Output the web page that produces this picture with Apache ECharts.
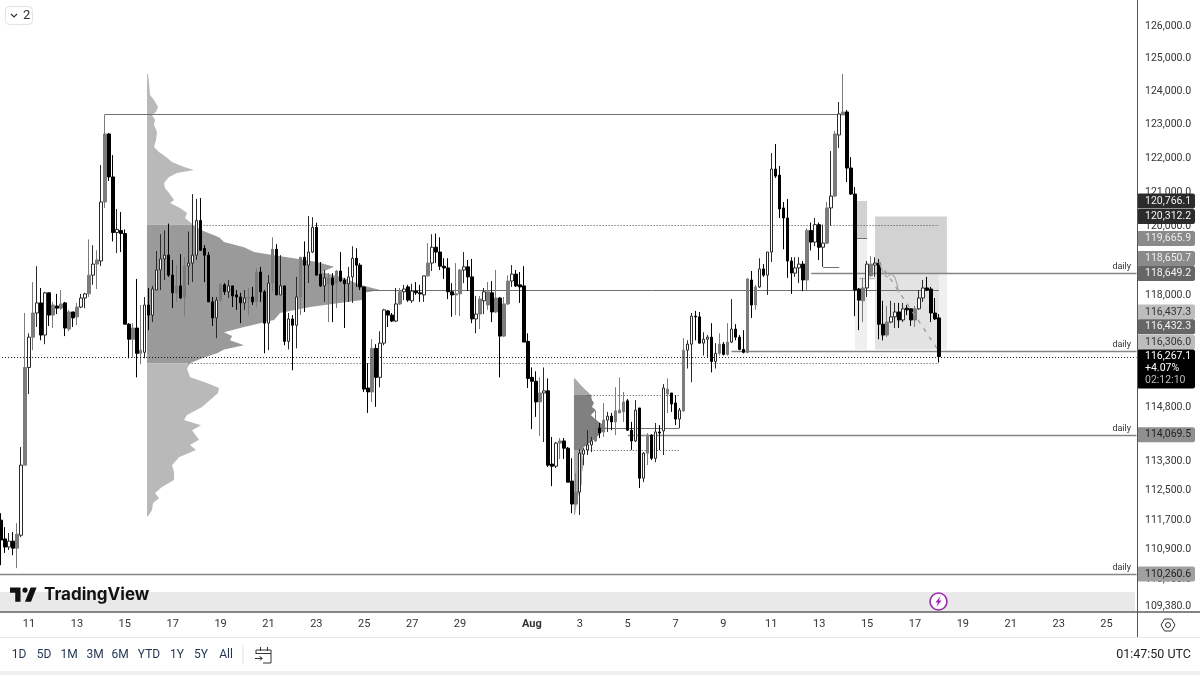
<!DOCTYPE html>
<html>
<head>
<meta charset="utf-8">
<title>BTCUSD 4h</title>
<style>
html, body { margin: 0; padding: 0; background: #fff; }
#chart { width: 1200px; height: 675px; }
</style>
<script src="https://cdn.jsdelivr.net/npm/echarts@6/dist/echarts.min.js"></script>
</head>
<body>
<div id="chart"></div>
<script>
// 4h candles: open, close, low, high
var candles = [
[111720,111180,110500,111910],[111210,110990,110830,111530],[110990,111150,110910,111370],[111150,110960,110770,111400],[110960,111340,110420,111640],
[111310,113230,111260,113730],[113230,115960,113230,117510],[115960,116820,115210,116930],[116820,117510,116450,118400],[117510,117800,117110,118860],
[117800,116880,116730,118230],[116880,118090,116620,118120],[118090,117450,117140,118090],[117450,117740,117080,117830],[117710,117650,117480,118060],
[117650,117770,117600,118170],[117800,117080,116850,117830],[117050,117540,116990,117600],[117540,117370,117110,117540],[117400,117680,117160,117800],
[117680,117940,117650,118060],[117940,118060,117650,118090],[118060,118600,117970,119640],[118600,118920,118320,119470],[118920,119040,118200,119320],
[119010,120735,118860,121830],[120735,122755,120560,123340],[122755,121475,121355,122785],[121475,119840,119580,122125],[119840,119930,119240,120530],
[119900,119810,119270,120440],[119810,117190,117190,119930],[117190,116760,116220,117220],[116760,117080,116240,117220],[117080,116360,115680,118490],
[116360,116450,116050,117740],[116390,117740,116220,117970],[117740,117450,117020,118230],[117450,118200,117250,118290],[118170,118750,118170,119300],
[118750,119070,118170,119790],[119070,119180,118460,119900],[119180,118600,118550,120100],[118600,118090,117650,119040],[118090,118290,117830,118890],
[118290,117940,117910,119210],[117970,118860,117420,119120],[118860,118950,118320,119870],[118950,119180,118400,120970],[119180,120190,119040,120825],
[120190,119320,119300,120850],[119380,119180,118400,119470],[119180,117830,117830,119270],[117830,117370,117140,117970],[117370,117880,116790,117970],
[117880,118320,117830,118370],[118320,118120,118030,118370],[118120,118290,117940,118460],[118290,118000,117680,118290],[118030,117970,117600,118170],
[117970,117800,117220,118090],[117800,117940,117600,118170],[117940,117970,117450,118230],[117970,117830,117740,118260],[117830,118690,117680,118810],
[118690,118120,117830,118840],[118120,117220,116360,118170],[117220,118370,116450,118600],[118370,119350,118120,119700],[119350,118030,118030,119500],
[118030,118290,118030,119180],[118290,116700,116590,118290],[116700,117340,116470,117510],[117340,117160,115880,117450],[117160,117970,116500,118550],
[117970,119120,117450,119120],[119120,118890,117540,119580],[118890,119270,118370,120320],[119270,119990,119240,120290],[119990,118600,118600,120130],
[118630,118290,118260,118980],[118290,118520,117830,118750],[118350,118520,117250,118660],[118520,118320,117250,118660],[118350,118720,117650,118750],
[118720,118430,118400,119270],[118460,118350,117080,118520],[118350,118550,117830,118840],[118550,119090,117800,119440],[119090,118890,118260,119380],
[118890,118260,118170,118950],[118260,115350,115270,118260],[115380,115270,114680,116080],[115270,116500,114990,116760],[116500,115680,114850,116620],
[115680,116650,115400,116990],[116650,117600,116590,117630],[117570,117450,117110,117600],[117450,117280,117250,117510],[117280,117770,117250,118230],
[117770,118120,117740,118230],[118120,118200,117880,118320],[118260,117880,117830,118320],[117860,118140,117800,118350],[118140,118090,118030,118400],
[118090,118060,117830,118320],[118030,118580,117830,118580],[118580,118950,118550,119530],[118950,119410,118720,119790],[119410,119270,118950,119810],
[119270,118860,118750,119700],[118860,118810,118490,119090],[118810,118120,117910,119090],[118120,118030,117400,118370],[118030,118060,117450,118950],
[118060,118750,117420,118780],[118750,118840,118370,119270],[118840,118550,118140,119040],[118550,117340,117220,119070],[117340,117480,116930,118000],
[117480,117910,117050,118000],[117860,118120,117480,118230],[117740,118120,117600,118400],[118090,117540,117250,118430],[117540,117940,117510,118750],
[117940,116850,115680,117970],[116850,117770,116820,117970],[117770,118430,117740,118600],[118430,118630,118260,118890],[118630,118290,118260,118750],
[118320,118260,117800,118690],[118290,116680,116680,118860],[116700,115650,115380,116930],[115680,115570,114230,115960],[115570,114990,114570,115850],
[114990,115240,114040,115680],[115240,115300,113870,115960],[115300,113230,113180,115650],[113260,113200,112650,114010],[113200,113840,113150,113870],
[113840,113900,113400,113980],[113900,113700,113400,113980],[113700,112760,112760,113730],[112790,112160,111910,113420],[112160,112490,112130,113010],
[112490,113560,111860,113670],[113530,113650,113230,113700],[113650,113790,113510,114200],[113790,113900,113590,114010],[113900,114260,113870,114740],
[114260,114120,113980,114400],[114150,114480,114010,114960],[114480,114590,114150,114710],[114590,114430,114200,114680],[114430,114740,114060,115400],
[114680,114760,114680,115680],[114710,114990,114430,115270],[115020,114200,114180,115070],[114200,113900,113650,114430],[113900,114760,113870,115040],
[114820,112870,112600,114820],[112870,113560,112760,113590],[113560,114060,113230,114120],[114060,113420,113370,114090],[113420,114150,113310,114400],
[114150,114120,113650,114340],[114180,115380,113510,115490],[115210,115350,114680,115650],[115240,114930,114710,115240],[114960,114510,114340,115180],
[114510,114760,114260,114820],[114740,116450,114710,116790],[116450,116620,115930,116730],[116620,117420,115540,117510],[117420,117400,116730,117570],
[117400,116650,116650,117540],[116650,116760,116300,116960],[116760,116820,116240,116880],[116820,116130,115820,117220],[116130,116360,115930,116650],
[116360,116620,116300,116930],[116620,116330,116300,116680],[116330,116680,116300,117220],[116680,117050,116650,117910],[117050,116820,116730,117190],
[116820,116470,116450,116880],[116470,116390,116360,117020],[116390,118490,116360,118520],[118460,117740,117370,118720],[117740,118260,117600,118320],
[118260,118780,118230,119090],[118780,118600,118550,118920],[118600,119270,118030,119270],[119270,121710,118980,122185],[121710,121500,121445,122455],
[121530,120530,120265,121800],[120560,120265,119350,120735],[120265,119010,118520,120825],[119010,118660,118060,119120],[118660,118810,118550,119120],
[118810,118920,118370,119120],[118920,118460,118140,119010],[118460,119900,118170,119960],[119900,119560,119320,120130],[119560,120070,119440,120265],
[120070,119410,119040,120130],[119410,119530,118840,120070],[119530,120560,119500,120735],[120560,120910,120040,122245],[120910,122755,120880,122845],
[122725,123355,122335,123715],[123325,123415,123325,124565],[123415,121740,121325,123475],[121740,120970,120940,122065],[120970,118170,117420,121175],
[118200,117880,117020,118230],[117860,118230,117250,118520],[118230,118920,117970,119010],[118580,118920,118550,119150],[118890,118950,118550,119120],
[118950,117190,116760,119070],[117190,116880,116730,117860],[116880,117250,116820,117710],[117250,117400,117220,117860],[117400,117540,117080,117800],
[117540,117310,117080,117800],[117310,117630,117250,117800],[117650,117600,117450,117740],[117630,117310,117140,117650],[117310,117630,117110,117710],
[117630,117940,117600,118170],[117940,118230,117830,118460],[118230,118170,118140,118550],[118200,117510,117250,118260],[117510,117340,117310,117940],
[117370,116267.1,116100,117480]
];
// candles that TradingView shows filled grey
var greyCandles = [4,6,8,13,15,17,19,22,24,26,33,35,44,46,55,62,64,68,75,82,84,93,100,107,114,115,120,122,124,126,127,135,140,144,149,151,154,155,156,162,167,171,180,182,187,189,202,207,209,211,216,218,222,229];

var tickDays = ['07-11','07-13','07-15','07-17','07-19','07-21','07-23','07-25','07-27','07-29','08-01','08-03','08-05','08-07','08-09','08-11','08-13','08-15','08-17','08-19','08-21','08-23','08-25'];
var tickNames = ['11','13','15','17','19','21','23','25','27','29','Aug','3','5','7','9','11','13','15','17','19','21','23','25'];
var priceTicks = [126000,125000,124000,123000,122000,121000,120000,118000,114800,113300,112500,111700,110900,110100,109380];

// volume profile rows: price, volume
var profilePrices = [124565,124290,123930,123775,123565,123415,123325,123175,123025,122815,122575,122365,122215,122065,121920,121770,121680,121590,121475,121295,121145,121000,120795,120705,120560,120410,120265,120100,120070,119900,119700,119560,119410,119270,119180,119090,118980,118840,118690,118520,118320,118170,118090,117880,117680,117510,117310,117110,116960,116850,116730,116590,116470,116360,116220,116080,115930,115680,115540,115380,115240,115040,114850,114620,114480,114340,114200,113930,113790,113650,113450,113230,113040,112820,112630,112460,112320,112190,112000,111830];
var profileVolumes = [1,2,3,7,11,9,5,8,7,10,9,7,12,19,25,37,47,30,22,17,18,22,27,23,33,40,38,45,46,55,72,77,97,107,127,147,170,187,175,197,213,233,217,215,163,133,127,97,77,85,83,97,77,70,55,43,40,43,58,72,71,63,55,40,37,54,45,52,43,49,32,25,27,27,15,8,12,6,5,1];
var profile2Prices = [115650,115460,115320,115240,115180,115040,114960,114850,114760,114620,114540,114430,114340,114260,114150,114010,113870,113730,113650,113510,113290,113010,112740,112350,111860];
var profile2Volumes = [1,7,12,15,17,18,20,18,22,17,20,25,30,32,28,23,17,10,8,8,10,8,8,4,1];

// levels: from candle, to candle, price
var dailyLines = [[0,284,110260.6],[157,284,114069.5],[183,284,116432.3],[203,284,118649.2]];
var solidLevels = [[91,235,118170],[26,210,123340],[150,170,114260],[206,210,118840],[214,217,119665.9]];
var paleLevels = [[215,219,118520]];
var dottedLevels = [[50,235,120070],[47,235,116100],[147,170,115180],[147,170,113650]];
var lastPriceLevel = [[0,284,116267.1]];
var dailyLevels = [118649.2,116432.3,114069.5,110260.6];

// position boxes: from candle, to candle, top price, bottom price
var darkBoxes = [[214,217,120766.1,119665.9],[219,237,120312.2,118650.7]];
var midBoxes = [[219,235,118650.7,116470]];
var lightBoxes = [[214,217,119665.9,116470],[235,237,118650.7,116470]];

var forecastCurve = [[220,118980],[222,118550],[223,118630],[224,118520],[225,118090]];
var forecastDash = [[220,118980],[235,116420]];

// price tags on the axis: text, price
var tagTexts = ['120,766.1','120,312.2','119,665.9','118,650.7','118,649.2','116,437.3','116,432.3','116,306.0','114,069.5','110,260.6'];
var tagPrices = [120766.1,120312.2,119665.9,118650.7,118649.2,116437.3,116432.3,116306,114069.5,110260.6];
var tagLift = [0,0,0,15,0,38.6,24,13,0,0];
var tagBg = ['#2b2b2b','#2b2b2b','#8a8a8a','#8a8a8a','#666666','#bdbdbd','#666666','#bdbdbd','#8f8f8f','#a0a0a0'];
var tagFg = ['#f4f4f4','#f4f4f4','#eeeeee','#eeeeee','#f4f4f4','#333333','#f4f4f4','#333333','#222222','#222222'];

var rangeButtons = ['1D','5D','1M','3M','6M','YTD','1Y','5Y','All'];
var rangeButtonX = [19,44,69,95,120,149,177,201,226];

var FONT = 'Roboto, "Liberation Sans", sans-serif';
var LAST = 284;

// 4h category axis, from 9 Jul 20:00 until past the right edge of the plot
var categories = [];
(function() {
    var t = Date.UTC(2025, 6, 9, 20);
    for (var i = 0; i <= LAST; i++) {
        var d = new Date(t + i * 4 * 3600000);
        var mm = ('0' + (d.getUTCMonth() + 1)).slice(-2);
        var dd = ('0' + d.getUTCDate()).slice(-2);
        var hh = ('0' + d.getUTCHours()).slice(-2);
        categories.push(mm + '-' + dd + ' ' + hh);
    }
})();

var candleData = candles.map(function(c, i) {
    if (greyCandles.indexOf(i) >= 0) {
        return { value: c, itemStyle: { color: '#7c7c7c', color0: '#7c7c7c', borderColor: '#7c7c7c', borderColor0: '#7c7c7c' } };
    }
    return c;
});

function silentCustom(data, z, renderItem) {
    return {
        type: 'custom',
        silent: true,
        z: z,
        data: data,
        renderItem: renderItem,
        animation: false
    };
}

function levelRows(rows) {
    return rows.map(function(r) { return [r[0], r[2]]; });
}

function levelSeries(rows, color, width, dash, z) {
    return silentCustom(levelRows(rows), z, function(params, api) {
        var r = rows[params.dataIndex];
        var cs = params.coordSys;
        var a = api.coord([r[0], r[2]]);
        var b = api.coord([r[1], r[2]]);
        var y = Math.round(a[1]) + 0.5;
        return {
            type: 'line',
            shape: { x1: r[0] === 0 ? cs.x : a[0], y1: y, x2: r[1] === LAST ? cs.x + cs.width : b[0], y2: y },
            style: { stroke: color, lineWidth: width, lineDash: dash }
        };
    });
}

function boxSeries(rows, color, z) {
    return silentCustom(levelRows(rows), z, function(params, api) {
        var r = rows[params.dataIndex];
        var a = api.coord([r[0], r[2]]);
        var b = api.coord([r[1], r[3]]);
        return {
            type: 'rect',
            shape: { x: a[0], y: a[1], width: b[0] - a[0], height: b[1] - a[1] },
            style: { fill: color }
        };
    });
}

// one filled outline per part of the profile; hi/lo bound the value area
function profileSeries(prices, volumes, startCandle, shift, hi, lo, outer, inner, z) {
    function part(api, keep, color) {
        var pts = [];
        var x0 = api.coord([startCandle, prices[0]])[0] + shift;
        prices.forEach(function(p, i) {
            if (keep(p)) {
                var c = api.coord([startCandle, p]);
                pts.push([x0 + volumes[i], c[1]]);
            }
        });
        pts.push([x0, pts[pts.length - 1][1]]);
        pts.unshift([x0, pts[0][1]]);
        return { type: 'polygon', shape: { points: pts }, style: { fill: color } };
    }
    return silentCustom([[startCandle, hi]], z, function(params, api) {
        return {
            type: 'group',
            children: [
                part(api, function(p) { return p >= hi; }, outer),
                part(api, function(p) { return p <= hi && p >= lo; }, inner),
                part(api, function(p) { return p <= lo; }, outer)
            ]
        };
    });
}

function axisText(text, x, y, fill, size) {
    return {
        type: 'text',
        style: { text: text, x: x, y: y, fill: fill, font: (size || 10.5) + 'px ' + FONT, align: 'left', verticalAlign: 'middle' }
    };
}

var series = [
    boxSeries(darkBoxes, '#d2d2d2', 1),
    boxSeries(midBoxes, '#e3e3e3', 1),
    boxSeries(lightBoxes, '#efefef', 1),
    profileSeries(profilePrices, profileVolumes, 37, -1.7, 120070, 116080, '#b9b9b9', '#9a9a9a', 2),
    profileSeries(profile2Prices, profile2Volumes, 143, 2.2, 115180, 113650, '#aaaaaa', '#808080', 2),
    levelSeries(dailyLines, '#858585', 1.5, null, 3),
    levelSeries(solidLevels, '#707070', 1, null, 3),
    levelSeries(paleLevels, '#bbbbbb', 1.5, null, 3),
    levelSeries(dottedLevels, '#444444', 1, [1, 2], 3),
    {
        type: 'candlestick',
        z: 5,
        barWidth: 3,
        data: candleData,
        silent: true,
        animation: false,
        itemStyle: { color: '#ffffff', color0: '#000000', borderColor: '#2a2a2a', borderColor0: '#000000', borderWidth: 1 }
    },
    levelSeries(lastPriceLevel, '#111111', 1, [1, 2], 6),
    {
        type: 'line',
        z: 6,
        data: forecastCurve,
        smooth: 0.3,
        symbol: 'none',
        silent: true,
        animation: false,
        lineStyle: { color: '#aaaaaa', width: 1.2 }
    },
    {
        type: 'line',
        z: 6,
        data: forecastDash,
        symbol: 'none',
        silent: true,
        animation: false,
        lineStyle: { color: '#999999', width: 1.3, type: [4, 6] }
    },
    // "daily" captions sit just above their level
    silentCustom(dailyLevels.map(function(p) { return [LAST, p]; }), 7, function(params, api) {
        var c = api.coord([LAST, dailyLevels[params.dataIndex]]);
        return {
            type: 'text',
            style: { text: 'daily', x: 1131, y: c[1] - 6.5, fill: '#333333', font: '9px ' + FONT, align: 'right', verticalAlign: 'middle' }
        };
    }),
    // price axis labels
    silentCustom(priceTicks.map(function(p) { return [LAST, p]; }), 8, function(params, api) {
        var p = priceTicks[params.dataIndex];
        var c = api.coord([LAST, p]);
        var txt = p.toLocaleString('en-US', { minimumFractionDigits: 1, maximumFractionDigits: 1 });
        return axisText(txt, 1145, c[1] - 1, '#333333');
    }),
    // price tags, pushed up where they would overlap like TradingView stacks them
    silentCustom(tagPrices.map(function(p) { return [LAST, p]; }), 9, function(params, api) {
        var i = params.dataIndex;
        var y = api.coord([LAST, tagPrices[i]])[1] - tagLift[i];
        return {
            type: 'group',
            children: [
                { type: 'rect', shape: { x: 1137, y: y - 7.5, width: 58, height: 15, r: 2 }, style: { fill: tagBg[i] } },
                axisText(tagTexts[i], 1145, y, tagFg[i])
            ]
        };
    }),
    // last price tag with change and countdown
    silentCustom([[LAST, 116267.1]], 10, function(params, api) {
        var y = api.coord([LAST, 116267.1])[1];
        return {
            type: 'group',
            children: [
                { type: 'rect', shape: { x: 1137, y: y - 7, width: 58, height: 39, r: 2 }, style: { fill: '#000000' } },
                axisText('116,267.1', 1145, y, '#ffffff'),
                axisText('+4.07%', 1145, y + 12, '#ffffff'),
                axisText('02:12:10', 1145, y + 24, '#bbbbbb')
            ]
        };
    })
];

var graphics = [
    { type: 'rect', z: -1, shape: { x: 0, y: 592, width: 1135, height: 19 }, style: { fill: '#e9e9e9' } },
    { type: 'line', z: 20, shape: { x1: 0, y1: 612, x2: 1200, y2: 612 }, style: { stroke: '#858585', lineWidth: 2 } },
    { type: 'line', z: 20, shape: { x1: 1137.5, y1: 0, x2: 1137.5, y2: 637 }, style: { stroke: '#555555', lineWidth: 1 } },
    { type: 'line', z: 20, shape: { x1: 0, y1: 637.5, x2: 1200, y2: 637.5 }, style: { stroke: '#e8e8e8', lineWidth: 1 } },
    { type: 'rect', z: 20, shape: { x: 0, y: 671, width: 1200, height: 4 }, style: { fill: '#f0f0f0' } },
    // top left collapse button
    { type: 'rect', z: 20, shape: { x: 5.5, y: 6.5, width: 27, height: 18, r: 4 }, style: { fill: '#ffffff', stroke: '#e3e3e3', lineWidth: 1 } },
    { type: 'polyline', z: 21, shape: { points: [[11, 14], [14, 17], [17, 14]] }, style: { stroke: '#333333', lineWidth: 1.2, fill: null } },
    { type: 'text', z: 21, style: { text: '2', x: 23, y: 15.5, fill: '#333333', font: '13px ' + FONT, verticalAlign: 'middle' } },
    // logo
    { type: 'polygon', z: 21, shape: { points: [[10, 587.5], [20.5, 587.5], [20.5, 601.75], [15.25, 601.75], [15.25, 592.75], [10, 592.75]] }, style: { fill: '#111111' } },
    { type: 'polygon', z: 21, shape: { points: [[25, 601.75], [31, 601.75], [36.6, 587.5], [30.6, 587.5]] }, style: { fill: '#111111' } },
    { type: 'circle', z: 21, shape: { cx: 25, cy: 590.1, r: 2.6 }, style: { fill: '#111111' } },
    { type: 'text', z: 21, style: { text: 'TradingView', x: 44, y: 594.5, fill: '#111111', font: 'bold 17px Inter, ' + FONT, verticalAlign: 'middle' } },
    // flash icon
    { type: 'circle', z: 21, shape: { cx: 938.5, cy: 601.5, r: 8.5 }, style: { fill: '#ffffff', stroke: '#9c27b0', lineWidth: 1.6 } },
    { type: 'polygon', z: 22, shape: { points: [[940.5, 596], [935.5, 602.5], [938, 602.5], [936.5, 607], [941.5, 600.5], [939, 600.5]] }, style: { fill: '#9c27b0' } },
    // settings hexagon
    { type: 'polygon', z: 21, shape: { points: [[1161, 625], [1164.5, 619], [1171.5, 619], [1175, 625], [1171.5, 631], [1164.5, 631]] }, style: { fill: '#ffffff', stroke: '#333333', lineWidth: 1 } },
    { type: 'circle', z: 22, shape: { cx: 1168, cy: 625, r: 2.5 }, style: { fill: '#ffffff', stroke: '#333333', lineWidth: 1 } },
    // date range divider and calendar icon
    { type: 'line', z: 21, shape: { x1: 243, y1: 645, x2: 243, y2: 664 }, style: { stroke: '#e3e3e3', lineWidth: 1 } },
    { type: 'polyline', z: 21, shape: { points: [[256, 654], [256, 650], [271, 650], [271, 663], [263, 663]] }, style: { stroke: '#333333', lineWidth: 1, fill: null } },
    { type: 'line', z: 21, shape: { x1: 256, y1: 653.5, x2: 271, y2: 653.5 }, style: { stroke: '#333333', lineWidth: 1 } },
    { type: 'line', z: 21, shape: { x1: 260.5, y1: 647, x2: 260.5, y2: 651 }, style: { stroke: '#333333', lineWidth: 1 } },
    { type: 'line', z: 21, shape: { x1: 267.5, y1: 647, x2: 267.5, y2: 651 }, style: { stroke: '#333333', lineWidth: 1 } },
    { type: 'polyline', z: 21, shape: { points: [[255, 658.5], [262, 658.5], [260, 656.5], [262, 658.5], [260, 660.5]] }, style: { stroke: '#333333', lineWidth: 1, fill: null } },
    { type: 'text', z: 21, style: { text: '01:47:50 UTC', x: 1191, y: 655, fill: '#222222', font: '12.5px ' + FONT, align: 'right', verticalAlign: 'middle' } }
];
rangeButtons.forEach(function(name, i) {
    graphics.push({ type: 'text', z: 21, style: { text: name, x: rangeButtonX[i], y: 655, fill: '#1f3350', font: '12px ' + FONT, align: 'center', verticalAlign: 'middle' } });
});

var chart = echarts.init(document.getElementById('chart'), null, { renderer: 'canvas' });
chart.setOption({
    animation: false,
    backgroundColor: '#ffffff',
    grid: { left: -0.93, top: 0, width: 1137.4, height: 612, containLabel: false, outerBoundsMode: 'none' },
    xAxis: {
        type: 'category',
        data: categories,
        boundaryGap: true,
        axisLine: { show: false },
        axisTick: { show: false },
        splitLine: { show: false },
        axisLabel: {
            margin: 7,
            color: '#333333',
            fontFamily: 'Roboto',
            fontSize: 11,
            hideOverlap: false,
            interval: function(index, value) {
                return value.slice(-2) === '00' && tickDays.indexOf(value.slice(0, 5)) >= 0;
            },
            formatter: function(value) {
                var name = tickNames[tickDays.indexOf(value.slice(0, 5))];
                return name === 'Aug' ? '{b|Aug}' : name;
            },
            rich: { b: { fontWeight: 'bold', fontSize: 11, fontFamily: 'Roboto', color: '#333333' } }
        }
    },
    yAxis: {
        type: 'log',
        logBase: 10,
        min: 109245.6,
        max: 126832.6,
        position: 'right',
        axisLine: { show: false },
        axisTick: { show: false },
        axisLabel: { show: false },
        splitLine: { show: false },
        minorTick: { show: false },
        minorSplitLine: { show: false }
    },
    tooltip: { show: false },
    graphic: graphics,
    series: series
});
</script>
</body>
</html>
